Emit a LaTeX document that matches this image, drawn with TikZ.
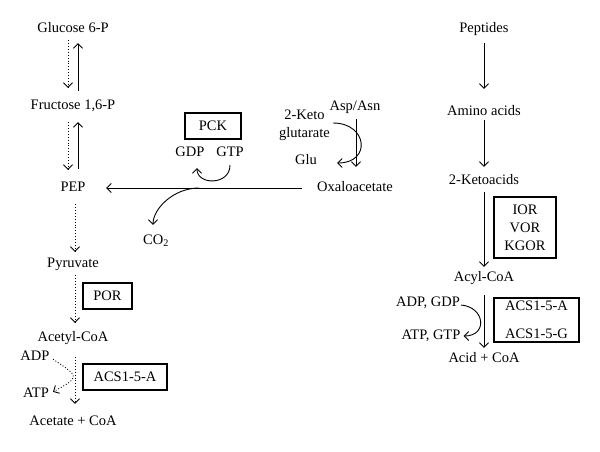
\documentclass[tikz,border=0pt]{standalone}
\usepackage{fontspec}
\setmainfont{Liberation Serif}
\usetikzlibrary{arrows.meta, positioning, calc}
\newcommand{\mapFont}{\fontsize{14.5}{18}\selectfont}
\tikzset{
    mapText/.style={inner sep=0pt, font=\mapFont},
    metab/.style={mapText, text height=10pt, text depth=3pt},
    enzBox/.style={draw, line width=1.1pt, inner sep=2pt, minimum height=26pt, font=\mapFont, align=center},
    flowLine/.style={-{Straight Barb[length=4.5pt, width=9pt]}, line width=0.9pt},
    dotLine/.style={flowLine, dotted}
}

\begin{document}
\begin{tikzpicture}[x=1pt, y=-1pt]
        \useasboundingbox (0,0) rectangle (600,451);

        % --- Left column (sugars to acetate) ---
        \node[metab] (glc) at (73, 29)  {Glucose 6-P};
        \node[metab] (fru) at (73, 106) {Fructose 1,6-P};
        \node[metab] (pep) at (73, 188) {PEP};
        \node[metab] (pyr) at (73, 264) {Pyruvate};
        \node[metab] (acl) at (73, 338) {Acetyl-CoA};
        \node[metab] (act) at (73, 422) {Acetate + CoA};
        \node[metab] (adp) at (35, 357) {ADP};
        \node[metab] (atp) at (36, 394) {ATP};

        % Enzyme boxes
        \node[enzBox, minimum width=49pt] (por) at (107.5, 296) {POR};
        \node[enzBox, minimum width=84pt] (acsA) at (125, 377) {ACS1-5-A};

        % Arrows
        \draw[dotLine, shorten <=4.5pt, shorten >=11.5pt] ([xshift=-5pt]glc.south) -- ([xshift=-5pt]fru.north);
        \draw[flowLine, shorten <=8.5pt, shorten >=7.5pt] ([xshift=5pt]fru.north) -- ([xshift=5pt]glc.south);
        \draw[dotLine, shorten <=9.5pt, shorten >=11.5pt] ([xshift=-5pt]fru.south) -- ([xshift=-5pt]pep.north);
        \draw[flowLine, shorten <=12.5pt, shorten >=9.5pt] ([xshift=5pt]pep.north) -- ([xshift=5pt]fru.south);
        \draw[dotLine, shorten <=9.5pt, shorten >=5.5pt] ([xshift=2pt]pep.south) -- ([xshift=2pt]pyr.north);
        \draw[dotLine, shorten <=4.5pt, shorten >=8.5pt] ([xshift=2pt]pyr.south) -- ([xshift=2pt]acl.north);
        \draw[dotLine, shorten <=12.5pt, shorten >=11.5pt] ([xshift=2pt]acl.south) -- ([xshift=2pt]act.north);
        \draw[dotLine, shorten <=4pt, shorten >=4.5pt] (adp.east) .. controls (80,377) .. (atp.east);

        % --- Middle part (PCK and oxaloacetate) ---
        \node[metab] (oaa) at (355, 188) {Oxaloacetate};
        \node[metab] (asp) at (355, 107) {Asp/Asn};
        \node[mapText, align=center] (kg) at (304.5, 125) {2-Keto\\glutarate};
        \node[metab] (glu) at (306, 161) {Glu};
        \node[enzBox, minimum width=56pt] (pck) at (213, 126) {PCK};
        \node[metab] (gdp) at (190, 153) {GDP};
        \node[metab] (gtp) at (230, 153) {GTP};
        \node[metab] (co2) at (156, 241) {CO\textsubscript{2}};
        \coordinate (co2src) at (199, 188);

        \draw[flowLine, shorten <=15pt, shorten >=20.5pt] (oaa.west) -- (pep.east);
        \draw[flowLine, shorten <=5.5pt, shorten >=14.5pt] ([xshift=1pt]asp.south) -- ([xshift=1pt]oaa.north);
        \draw[flowLine] ([shift={(3pt,2pt)}]kg.east) to[out=0, in=0, looseness=2.2] ([shift={(20pt,-2pt)}]glu.east);
        \draw[flowLine, shorten <=5.5pt, shorten >=8.5pt] (gtp.south) to[out=-90, in=-90, looseness=2] ([xshift=7pt]gdp.south);
        \draw[flowLine, shorten >=9.5pt] (co2src) to[out=180, in=90] ([xshift=-3pt]co2.north);

        % --- Right column (peptides to acids) ---
        \node[metab] (pepd) at (484, 29)  {Peptides};
        \node[metab] (amino) at (484, 112) {Amino acids};
        \node[metab] (keto) at (484, 181) {2-Ketoacids};
        \node[metab] (acyl) at (484, 278) {Acyl-CoA};
        \node[metab] (acid) at (484, 359) {Acid + CoA};
        \node[metab] (adpg) at (428, 303) {ADP, GDP};
        \node[metab] (atpg) at (431, 336) {ATP, GTP};

        \node[enzBox, minimum width=62pt, minimum height=61pt] (ior) at (525, 227.5) {IOR\\VOR\\KGOR};
        \node[enzBox, minimum width=85pt, minimum height=44pt] (acsG) at (536.5, 320) {ACS1-5-A\\[10pt]ACS1-5-G};

        \draw[flowLine, shorten <=7.5pt, shorten >=16.5pt] (pepd.south) -- (amino.north);
        \draw[flowLine, shorten <=1.5pt, shorten >=7.5pt] (amino.south) -- (keto.north);
        \draw[flowLine, shorten <=4.5pt, shorten >=4.5pt] (keto.south) -- (acyl.north);
        \draw[flowLine, shorten <=10.5pt, shorten >=4.5pt] (acyl.south) -- (acid.north);
        \draw[flowLine] ([shift={(1pt,-2pt)}]adpg.east) to[out=-5, in=0, looseness=2] ([xshift=3pt]atpg.east);

\end{tikzpicture}
\end{document}
